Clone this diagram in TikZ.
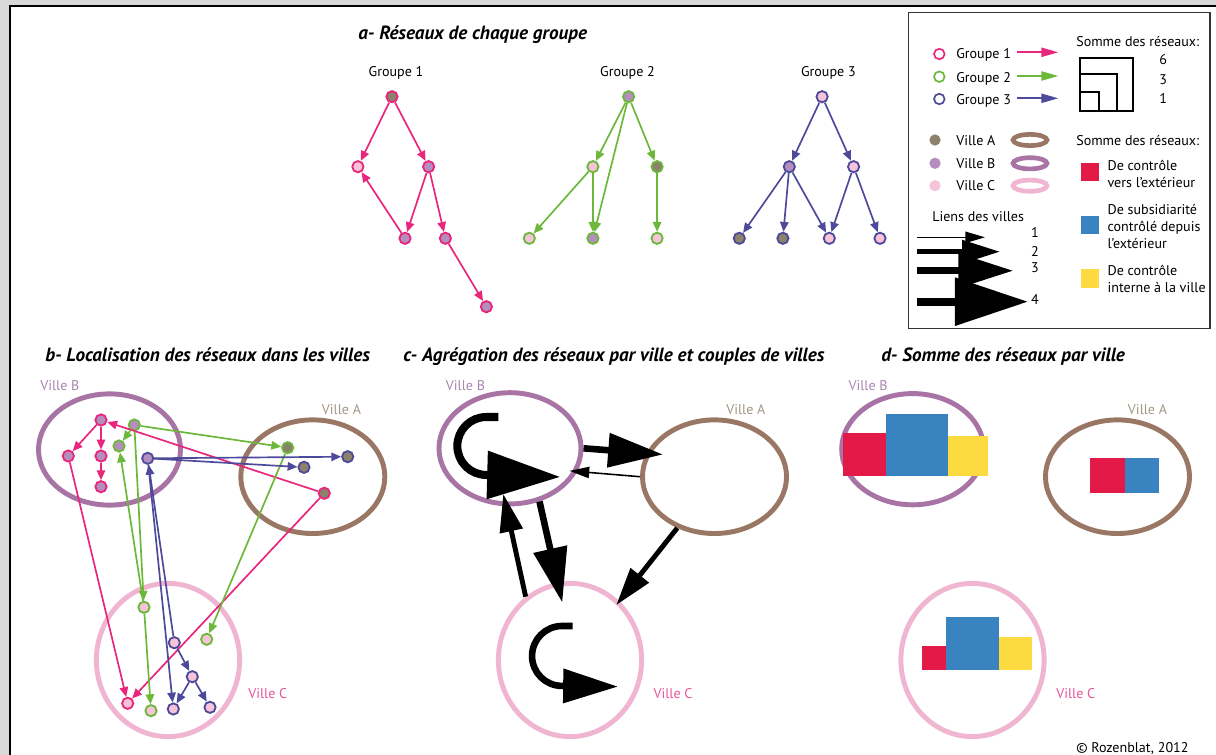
\documentclass[tikz,border=0pt]{standalone}
\usepackage{fontspec}
\setmainfont{PT Sans}
\usetikzlibrary{arrows.meta,shapes.geometric}

\definecolor{grpun}{HTML}{E8267C}
\definecolor{grpdeux}{HTML}{6DB83A}
\definecolor{grptrois}{HTML}{4E4A9B}
\definecolor{villeA}{HTML}{8C816A}
\definecolor{villeB}{HTML}{B48EBE}
\definecolor{villeC}{HTML}{F6C3D8}
\definecolor{anneauA}{HTML}{9A7764}
\definecolor{anneauB}{HTML}{A774A5}
\definecolor{anneauC}{HTML}{F0B5D0}
\definecolor{lblA}{HTML}{A39886}
\definecolor{lblB}{HTML}{A887B0}
\definecolor{lblC}{HTML}{E5579B}
\definecolor{rouge}{HTML}{E31A47}
\definecolor{bleu}{HTML}{3A83C1}
\definecolor{jaune}{HTML}{FDDA3F}
\definecolor{fond}{HTML}{D9D9D9}

\tikzset{
  nd/.style={circle,inner sep=0pt,minimum size=8pt,line width=1.3pt},
  g1/.style={nd,draw=grpun},
  g2/.style={nd,draw=grpdeux},
  g3/.style={nd,draw=grptrois},
  vA/.style={fill=villeA},
  vB/.style={fill=villeB},
  vC/.style={fill=villeC},
  fl/.style={line width=1.2pt,-{Triangle[length=7pt,width=6pt]}},
  legfl/.style={line width=1.2pt,-{Triangle[length=12pt,width=6.5pt]}},
  ringA/.style={ellipse,draw=anneauA,line width=3.5pt,inner sep=0pt,minimum width=3.6cm,minimum height=2.84cm},
  ringB/.style={ellipse,draw=anneauB,line width=3.5pt,inner sep=0pt,minimum width=3.55cm,minimum height=2.78cm},
  ringC/.style={ellipse,draw=anneauC,line width=3.5pt,inner sep=0pt,minimum width=3.58cm,minimum height=3.83cm},
  lien1/.style={line width=1.1pt,-{Triangle[length=14pt,width=8pt]}},
  lien2/.style={line width=3.5pt,-{Triangle[length=27pt,width=16pt]}},
  lien3/.style={line width=4.7pt,-{Triangle[length=39pt,width=23.5pt]}},
  lien4/.style={line width=5.7pt,-{Triangle[length=52pt,width=33pt]}},
  lbl/.style={font=\fontsize{10}{12.1}\selectfont,inner sep=0pt},
  titre/.style={font=\fontsize{13.6}{16}\selectfont\bfseries\itshape,inner sep=0pt,anchor=base west},
}

\begin{document}
\begin{tikzpicture}[x=0.025cm,y=-0.025cm]
    \useasboundingbox (0,0) rectangle (1216,755);
    \fill[fond] (0,0) rectangle (1216,755);
    \fill[white] (10,6) rectangle (1216,755);
    \draw[line width=1.1pt] (10,755) -- (10,6) -- (1216,6);

    % a- reseaux de chaque groupe
    \node[titre] at (358,40) (ta) {a- Réseaux de chaque groupe};
    \node[lbl] at (396,73) (tg1) {Groupe 1};
    \node[lbl] at (627.5,73) (tg2) {Groupe 2};
    \node[lbl] at (828.4,73) (tg3) {Groupe 3};

    \node[g1,vA] at (392,96.7) (a1A) {};
    \node[g1,vC] at (357.9,166.7) (a1C) {};
    \node[g1,vB] at (428.6,166.7) (a1B1) {};
    \node[g1,vB] at (405,238.3) (a1B2) {};
    \node[g1,vB] at (445.4,238.3) (a1B3) {};
    \node[g1,vB] at (486.4,306.7) (a1B4) {};
    \path[fl,grpun]
    (a1A) edge (a1C)
    (a1A) edge (a1B1)
    (a1B1) edge (a1B2)
    (a1B2) edge (a1C)
    (a1B1) edge (a1B3)
    (a1B3) edge (a1B4)
    ;

    \node[g2,vB] at (628.6,96.7) (a2B1) {};
    \node[g2,vC] at (592.9,166.7) (a2C1) {};
    \node[g2,vA] at (657.1,166.7) (a2A) {};
    \node[g2,vC] at (529.3,238.3) (a2C2) {};
    \node[g2,vB] at (592.9,238.3) (a2B2) {};
    \node[g2,vC] at (657.1,238.3) (a2C3) {};
    \path[fl,grpdeux]
    (a2B1) edge (a2C1)
    (a2B1) edge (a2B2)
    (a2B1) edge (a2A)
    (a2C1) edge (a2C2)
    (a2C1) edge (a2B2)
    (a2A) edge (a2C3)
    ;

    \node[g3,vC] at (822.1,96.7) (a3C1) {};
    \node[g3,vB] at (789.3,166.7) (a3B) {};
    \node[g3,vC] at (853.6,166.7) (a3C2) {};
    \node[g3,vA] at (739.3,238.3) (a3A1) {};
    \node[g3,vA] at (782.9,238.3) (a3A2) {};
    \node[g3,vC] at (829.3,238.3) (a3C3) {};
    \node[g3,vC] at (880,238.3) (a3C4) {};
    \path[fl,grptrois]
    (a3C1) edge (a3B)
    (a3C1) edge (a3C2)
    (a3B) edge (a3A1)
    (a3B) edge (a3A2)
    (a3B) edge (a3C3)
    (a3C2) edge (a3C3)
    (a3C2) edge (a3C4)
    ;

    % legende
    \draw[line width=1pt,black!80] (908.3,12.7) rectangle (1210,328.3);
    \node[nd,draw=grpun,fill=white,line width=1.2pt,minimum size=7.5pt] at (939.3,54) (lg1) {};
    \node[nd,draw=grpdeux,fill=white,line width=1.2pt,minimum size=7.5pt] at (939.3,76.7) (lg2) {};
    \node[nd,draw=grptrois,fill=white,line width=1.2pt,minimum size=7.5pt] at (939.3,99) (lg3) {};
    \node[lbl,anchor=base west] at (956,59) (lt1) {Groupe 1};
    \node[lbl,anchor=base west] at (956,82.7) (lt2) {Groupe 2};
    \node[lbl,anchor=base west] at (956,105) (lt3) {Groupe 3};
    \coordinate (lf1a) at (1016.7,52.3);
    \coordinate (lf1b) at (1058.3,52.3);
    \coordinate (lf2a) at (1016.7,76);
    \coordinate (lf2b) at (1058.3,76);
    \coordinate (lf3a) at (1016.7,98.3);
    \coordinate (lf3b) at (1058.3,98.3);
    \draw[legfl,grpun] (lf1a) -- (lf1b);
    \draw[legfl,grpdeux] (lf2a) -- (lf2b);
    \draw[legfl,grptrois] (lf3a) -- (lf3b);

    \node[nd,fill=villeA,minimum size=8pt] at (935,140) (lvA) {};
    \node[nd,fill=villeB,minimum size=8pt] at (935,163.3) (lvB) {};
    \node[nd,fill=villeC,minimum size=8pt] at (935,185.7) (lvC) {};
    \node[lbl,anchor=base west] at (956,146) (ltA) {Ville A};
    \node[lbl,anchor=base west] at (956,168.7) (ltB) {Ville B};
    \node[lbl,anchor=base west] at (956,190.7) (ltC) {Ville C};
    \node[ellipse,draw=anneauA,line width=3.3pt,minimum width=0.85cm,minimum height=0.28cm,inner sep=0pt] at (1030,140) (lrA) {};
    \node[ellipse,draw=anneauB,line width=3.3pt,minimum width=0.85cm,minimum height=0.28cm,inner sep=0pt] at (1030,163.3) (lrB) {};
    \node[ellipse,draw=anneauC,line width=3.3pt,minimum width=0.85cm,minimum height=0.28cm,inner sep=0pt] at (1030,185.7) (lrC) {};

    \node[lbl,anchor=base west] at (932,221.7) (tliens) {Liens des villes};
    \coordinate (ll1a) at (916.7,237.3);
    \coordinate (ll1b) at (985,237.3);
    \coordinate (ll2a) at (916.7,251.7);
    \coordinate (ll2b) at (1000,251.7);
    \coordinate (ll3a) at (916.7,270.7);
    \coordinate (ll3b) at (1013.3,270.7);
    \coordinate (ll4a) at (916.7,301.7);
    \coordinate (ll4b) at (1028,301.7);
    \draw[lien1] (ll1a) -- (ll1b);
    \draw[lien2] (ll2a) -- (ll2b);
    \draw[lien3] (ll3a) -- (ll3b);
    \draw[lien4] (ll4a) -- (ll4b);
    \node[lbl,anchor=base] at (1035,237.3) (ln1) {1};
    \node[lbl,anchor=base] at (1035,256.7) (ln2) {2};
    \node[lbl,anchor=base] at (1035,272.7) (ln3) {3};
    \node[lbl,anchor=base] at (1035,304) (ln4) {4};

    \node[lbl,anchor=base west] at (1076,46.7) (ts1) {Somme des réseaux:};
    \draw[line width=0.8pt] (1080,111) rectangle (1133,58);
    \draw[line width=0.8pt] (1080,111) rectangle (1117,74);
    \draw[line width=0.8pt] (1080,111) rectangle (1099,92);
    \node[lbl,anchor=base] at (1163.3,65) (ls6) {6};
    \node[lbl,anchor=base] at (1163.3,84.3) (ls3) {3};
    \node[lbl,anchor=base] at (1163.3,103.3) (ls1) {1};

    \node[lbl,anchor=base west] at (1076,146) (ts2) {Somme des réseaux:};
    \fill[rouge] (1081,162.7) rectangle (1099.3,181);
    \fill[bleu] (1081,216) rectangle (1099.3,234.3);
    \fill[jaune] (1081,269.3) rectangle (1099.3,287.7);
    \node[lbl,anchor=west,align=left] at (1107.3,174) (tr) {De contrôle\\vers l’extérieur};
    \node[lbl,anchor=west,align=left] at (1107.3,226.5) (tb) {De subsidiarité\\contrôlé depuis\\l’extérieur};
    \node[lbl,anchor=west,align=left] at (1107.3,279.3) (tj) {De contrôle\\interne à la ville};

    % b- localisation des reseaux dans les villes
    \node[titre] at (45,361) (tb) {b- Localisation des réseaux dans les villes};
    \node[ringB] at (109.5,449.5) (bB) {};
    \node[ringA] at (312.8,476.7) (bA) {};
    \node[ringC] at (168,660) (bC) {};
    \node[lbl,lblB,anchor=base west] at (40,390) (bvB) {Ville B};
    \node[lbl,lblA,anchor=base west] at (321.7,414) (bvA) {Ville A};
    \node[lbl,lblC,anchor=base west] at (248,698.5) (bvC) {Ville C};

    \node[g1,vA] at (324.3,493.3) (b1A) {};
    \node[g1,vB] at (101,420) (b1B1) {};
    \node[g1,vB] at (68.3,456) (b1B2) {};
    \node[g1,vB] at (101,456) (b1B3) {};
    \node[g1,vB] at (101,486.7) (b1B4) {};
    \node[g1,vC] at (127.7,703.3) (b1C) {};
    \node[g2,vB] at (134.3,425) (b2B1) {};
    \node[g2,vB] at (119,446) (b2B2) {};
    \node[g2,vA] at (287.7,447.7) (b2A) {};
    \node[g2,vC] at (144,607.3) (b2C1) {};
    \node[g2,vC] at (206.7,639.3) (b2C2) {};
    \node[g2,vC] at (151,710.7) (b2C3) {};
    \node[g3,vB] at (147.7,458.3) (b3B) {};
    \node[g3,vA] at (347.7,456.7) (b3A1) {};
    \node[g3,vA] at (304,467.3) (b3A2) {};
    \node[g3,vC] at (174.3,642.7) (b3C1) {};
    \node[g3,vC] at (192.3,676.7) (b3C2) {};
    \node[g3,vC] at (173.3,709) (b3C3) {};
    \node[g3,vC] at (210,707.3) (b3C4) {};
    \path[fl,grpun]
    (b1A) edge (b1C)
    (b1A) edge (b1B1)
    (b1B1) edge (b1B2)
    (b1B2) edge (b1C)
    (b1B1) edge (b1B3)
    (b1B3) edge (b1B4)
    ;
    \path[fl,grpdeux]
    (b2B1) edge (b2C1)
    (b2B1) edge (b2B2)
    (b2B1) edge (b2A)
    (b2C1) edge (b2C3)
    (b2C1) edge (b2B2)
    (b2A) edge (b2C2)
    ;
    \path[fl,grptrois]
    (b3C1) edge (b3B)
    (b3C1) edge (b3C2)
    (b3B) edge (b3A1)
    (b3B) edge (b3A2)
    (b3B) edge (b3C3)
    (b3C2) edge (b3C3)
    (b3C2) edge (b3C4)
    ;

    % c- agregation des reseaux par ville
    \node[titre] at (403,361) (tc) {c- Agrégation des réseaux par ville et couples de villes};
    \node[ringB] at (510,448.3) (cB) {};
    \node[ringA] at (714.5,476.7) (cA) {};
    \node[ringC] at (570,660) (cC) {};
    \node[lbl,lblB,anchor=base west] at (445.7,390) (cvB) {Ville B};
    \node[lbl,lblA,anchor=base west] at (726,414) (cvA) {Ville A};
    \node[lbl,lblC,anchor=base west] at (653.3,698.5) (cvC) {Ville C};
    \draw[lien3,shorten >=-12pt] (cB.east) -- (cA.161);
    \draw[lien1,shorten >=-5.6pt] (cA.west) -- (cB.-19);
    \draw[lien3,shorten >=-15pt] (cB.-61) -- (cC.99);
    \draw[lien2,shorten >=-9pt] (cC.125) -- (cB.266);
    \draw[lien2,shorten >=-3.6pt] (cA.234) -- (cC.50);
    \draw[lien4] ([shift={(-11.7,-31.3)}]cB.center) -- ++(-12,0)
      arc[start angle=90,end angle=270,radius=20.6pt] -- ++(74,2);
    \draw[lien3] ([shift={(2.7,-34)}]cC.center) -- ++(-10.7,0)
      arc[start angle=90,end angle=270,radius=21.3pt] -- ++(56,0.7);

    % d- somme des reseaux par ville
    \node[titre] at (881,361) (td) {d- Somme des réseaux par ville};
    \node[ringB] at (912.7,449.2) (dB) {};
    \node[ringA] at (1117.5,476.7) (dA) {};
    \node[ringC] at (972.5,660) (dC) {};
    \node[lbl,lblB,anchor=base west] at (848.3,390) (dvB) {Ville B};
    \node[lbl,lblA,anchor=base west] at (1127.7,414) (dvA) {Ville A};
    \node[lbl,lblC,anchor=base west] at (1056,698.5) (dvC) {Ville C};
    \fill[rouge] (842.7,432.7) rectangle (886,476);
    \fill[bleu] (886,414) rectangle (947.7,476);
    \fill[jaune] (947.7,436) rectangle (988.3,476);
    \fill[rouge] (1090,458.3) rectangle (1125,492.7);
    \fill[bleu] (1125,458.3) rectangle (1159.3,492.7);
    \fill[rouge] (921.7,646) rectangle (946,670);
    \fill[bleu] (946,617.3) rectangle (999,670);
    \fill[jaune] (999,636.7) rectangle (1031.7,670);

    \node[lbl,anchor=base west] at (1076,752.5) (copy) {© Rozenblat, 2012};
\end{tikzpicture}
\end{document}
